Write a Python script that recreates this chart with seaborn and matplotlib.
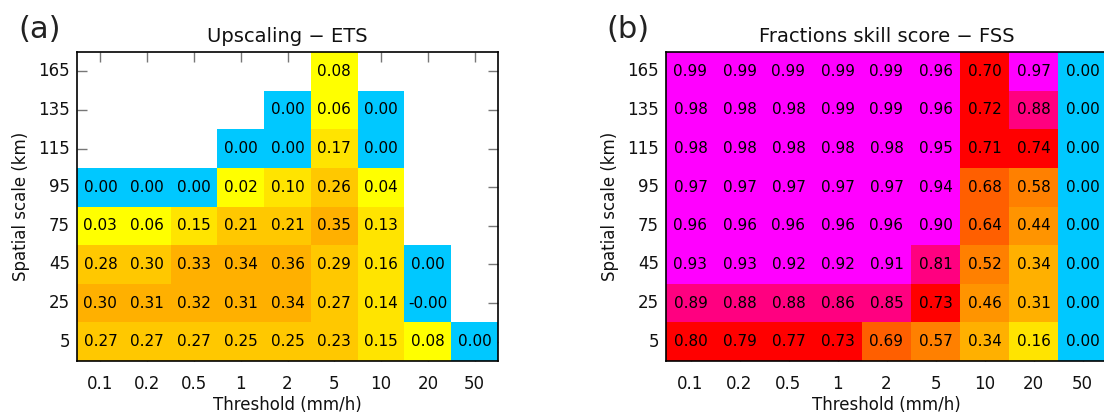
import numpy as np
import pandas as pd
import matplotlib
matplotlib.use("Agg")
import matplotlib.pyplot as plt
from matplotlib.colors import ListedColormap, BoundaryNorm
import seaborn as sns

thresholds = ["0.1", "0.2", "0.5", "1", "2", "5", "10", "20", "50"]
scales = [5, 25, 45, 75, 95, 115, 135, 165]  # bottom -> top
nan = np.nan

# Upscaling - ETS, rows ordered by scale 5 .. 165
ets_5   = [0.27, 0.27, 0.27, 0.25, 0.25, 0.23, 0.15, 0.08, 0.00]
ets_25  = [0.30, 0.31, 0.32, 0.31, 0.34, 0.27, 0.14, -0.0, nan]
ets_45  = [0.28, 0.298, 0.33, 0.34, 0.36, 0.29, 0.16, 0.00, nan]
ets_75  = [0.03, 0.06, 0.15, 0.21, 0.21, 0.35, 0.13, nan, nan]
ets_95  = [0.00, 0.00, 0.00, 0.02, 0.10, 0.26, 0.04, nan, nan]
ets_115 = [nan, nan, nan, 0.00, 0.00, 0.17, 0.00, nan, nan]
ets_135 = [nan, nan, nan, nan, 0.00, 0.06, 0.00, nan, nan]
ets_165 = [nan, nan, nan, nan, nan, 0.08, nan, nan, nan]

# Fractions skill score - FSS
fss_5   = [0.798, 0.79, 0.77, 0.73, 0.69, 0.57, 0.34, 0.16, 0.00]
fss_25  = [0.89, 0.88, 0.88, 0.86, 0.85, 0.73, 0.46, 0.31, 0.00]
fss_45  = [0.93, 0.93, 0.92, 0.92, 0.91, 0.81, 0.52, 0.34, 0.00]
fss_75  = [0.96, 0.96, 0.96, 0.96, 0.96, 0.90, 0.64, 0.44, 0.00]
fss_95  = [0.97, 0.97, 0.97, 0.97, 0.97, 0.94, 0.68, 0.58, 0.00]
fss_115 = [0.98, 0.98, 0.98, 0.98, 0.98, 0.95, 0.71, 0.74, 0.00]
fss_135 = [0.98, 0.98, 0.98, 0.99, 0.99, 0.96, 0.72, 0.88, 0.00]
fss_165 = [0.99, 0.99, 0.99, 0.99, 0.99, 0.96, 0.70, 0.97, 0.00]

ets = [ets_5, ets_25, ets_45, ets_75, ets_95, ets_115, ets_135, ets_165]
fss = [fss_5, fss_25, fss_45, fss_75, fss_95, fss_115, fss_135, fss_165]

level_colors = ["#00C8FF", "#FFFF00", "#FFE400", "#FFC800", "#FFB000",
                "#FF9400", "#FF8000", "#FF5F00", "#FF0000", "#FF0080", "#FF00FF"]
bounds = [-1.0, 0.005, 0.1, 0.2, 0.3, 0.4, 0.5, 0.6, 0.7, 0.8, 0.9, 1.01]
cmap = ListedColormap(level_colors)
norm = BoundaryNorm(bounds, cmap.N)

sns.set_style("white")
plt.rcParams["font.family"] = ["DejaVu Sans"]
plt.rcParams["text.color"] = "#111111"
plt.rcParams["axes.labelcolor"] = "#111111"
plt.rcParams["xtick.labelcolor"] = "#111111"
plt.rcParams["ytick.labelcolor"] = "#111111"

W, H = 1104, 418
fig = plt.figure(figsize=(W / 100, H / 100), dpi=100)

def px_axes(x0, x1, y0, y1):
    return fig.add_axes([x0 / W, 1 - y1 / H, (x1 - x0) / W, (y1 - y0) / H])

panels = [
    (px_axes(77, 498, 52, 361), ets, "Upscaling \u2212 ETS", "(a)", 40),
    (px_axes(666, 1107, 52, 361), fss, "Fractions skill score \u2212 FSS", "(b)", 628),
]

for ax, data, title, tag, tagx in panels:
    df = pd.DataFrame(data[::-1], index=scales[::-1], columns=thresholds)
    ax.set_axisbelow(True)
    sns.heatmap(df, ax=ax, cmap=cmap, norm=norm, cbar=False, annot=True, fmt=".2f",
                annot_kws={"color": "black", "fontsize": 11}, linewidths=0)
    ax.set_title(title, fontsize=14, pad=7, color="#111111")
    ax.set_xlabel("Threshold (mm/h)", fontsize=12, labelpad=2)
    ax.set_ylabel("Spatial scale (km)", fontsize=12, labelpad=6)
    ax.tick_params(axis="both", which="both", direction="in", length=7, width=1,
                   color="#777777", labelsize=12, top=True, right=True,
                   bottom=True, left=True)
    ax.tick_params(axis="x", pad=10, rotation=0)
    ax.tick_params(axis="y", pad=5, rotation=0)
    for s in ax.spines.values():
        s.set_visible(True)
        s.set_color("black")
        s.set_linewidth(1.2)
    fig.text(tagx / W, 1 - 30 / H, tag, fontsize=22, ha="center", va="center",
             color="#222222")

fig.savefig("out.png", dpi=100)
